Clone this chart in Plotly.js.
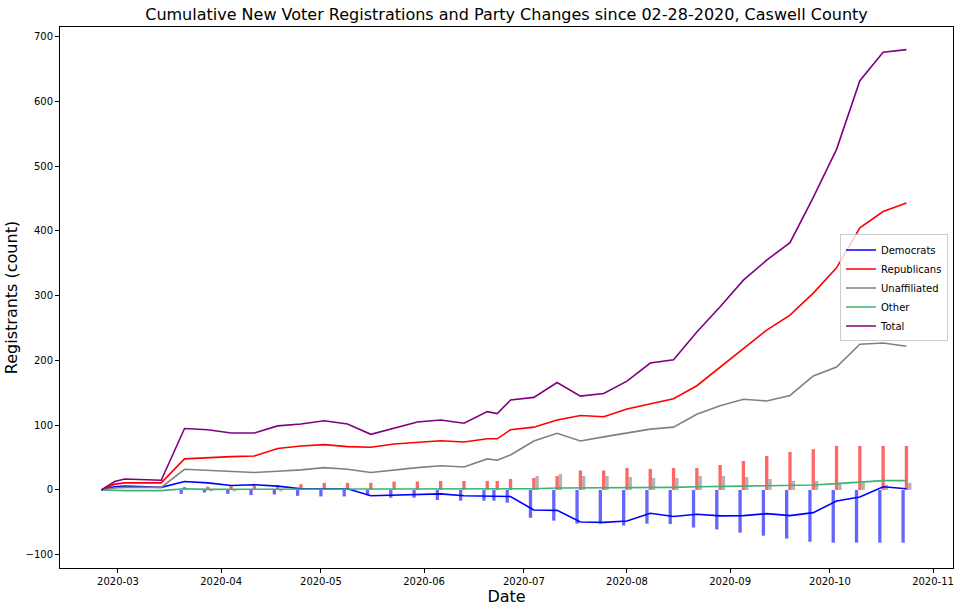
<!DOCTYPE html>
<html>
<head>
<meta charset="utf-8">
<script src="https://cdn.plot.ly/plotly-3.0.1.min.js"></script>
<style>
  html, body { margin: 0; padding: 0; background: #ffffff; }
  #chart { width: 962px; height: 611px; }
</style>
</head>
<body>
<div id="chart"></div>
<script>
// ---- Data ----
const lineDates = ['2020-02-25','2020-02-29','2020-03-03','2020-03-14','2020-03-21','2020-03-28',
  '2020-04-04','2020-04-11','2020-04-18','2020-04-25','2020-05-02','2020-05-09','2020-05-16',
  '2020-05-23','2020-05-30','2020-06-06','2020-06-13','2020-06-20','2020-06-23','2020-06-27',
  '2020-07-04','2020-07-11','2020-07-18','2020-07-25','2020-08-01','2020-08-08','2020-08-15',
  '2020-08-22','2020-08-29','2020-09-05','2020-09-12','2020-09-19','2020-09-26','2020-10-03',
  '2020-10-10','2020-10-17','2020-10-24'];

const democrats = [0, 5, 6, 4, 13, 11, 7, 8, 6, 2, 2, 2, -9, -8, -6, -6, -9, -9, -10, -10,
  -31, -31.5, -49.5, -50, -48, -36, -41, -37.6, -40, -39.6, -36.6, -39.6, -35, -17, -11, 5, 2];
const republicans = [0, 9, 11, 11, 48, 50, 51.5, 52.5, 64, 68, 70, 67, 66, 71, 74, 76, 74, 79, 79, 93,
  97, 108, 115, 113, 125, 133, 141, 161, 190, 218, 247, 270, 304, 343, 405, 430, 443];
const unaffiliated = [0, 3, 4, 4, 32, 30, 28.5, 27, 29, 31, 34.5, 32, 27, 31, 34.5, 37.5, 35.5, 48, 46, 54,
  75.7, 87.5, 75.7, 82, 88.5, 94, 97, 117, 130, 140, 137.5, 146, 176, 190, 225, 227, 222];
const other = [0, -1, -1, -1, 2, 1, 1, 1, 1, 1, 1, 1, 1, 1, 1, 1, 1, 2, 2, 2,
  2, 3, 3, 3, 3, 4, 4, 5, 5, 6, 6.5, 6.7, 7.7, 9.8, 12.4, 14.4, 14.4];
const total = [0, 13, 17, 15, 95, 93, 88, 88, 99, 102, 107, 102, 86, 95, 105, 108, 103, 121, 118, 139,
  143, 166, 145, 149, 168, 196, 201, 244, 283, 324, 355, 382, 452, 526, 632, 676, 680];

const barDates = lineDates.slice(4);
const demChange = [-6, -4, -6, -8, -7, -9, -10, -10, -8, -12, -12, -15.5, -16.5, -16.5, -16.5, -19.6,
  -43, -47.4, -52, -52, -55, -52, -52.5, -58, -61, -66, -70.6, -75, -80, -81.4, -81.4, -81.4, -81.4];
const repChange = [4.6, 5, 6, 7, 7.7, 9, 11, 11, 11, 13, 13, 14, 14, 14, 14, 17,
  18.5, 21.6, 30, 30, 34, 32.5, 34, 34, 38.6, 44.8, 52.5, 58.7, 63, 68, 68, 68, 68];
const unaChange = [0, -2, -2, 0, -2, 0, 0, 0, 0, 0, 0, 0, 0, 0, 0, 0,
  21.6, 24.7, 21.6, 21.6, 20, 18.5, 18.5, 21.6, 21.6, 20, 17, 14, 14, 9, 11, 8, 11];

const yTicks = [-100, 0, 100, 200, 300, 400, 500, 600, 700];

// ---- Styles ----
const DAY = 86400000;
const FONT = 'DejaVu Sans, Liberation Sans, sans-serif';

function barTrace(y, color, offsetDays) {
  return {
    type: 'bar', x: barDates, y: y, width: DAY, offset: offsetDays * DAY,
    marker: { color: color, line: { width: 0 } }, showlegend: false, hoverinfo: 'skip'
  };
}
function lineTrace(y, name, color) {
  return {
    type: 'scatter', mode: 'lines', x: lineDates, y: y, name: name,
    line: { color: color, width: 1.6 }
  };
}

const traces = [
  barTrace(demChange, 'rgba(0,0,255,0.6)', -1.5),
  barTrace(repChange, 'rgba(255,0,0,0.6)', -0.5),
  barTrace(unaChange, 'rgba(128,128,128,0.6)', 0.5),
  lineTrace(democrats, 'Democrats', '#0000ff'),
  lineTrace(republicans, 'Republicans', '#ff0000'),
  lineTrace(unaffiliated, 'Unaffiliated', '#808080'),
  lineTrace(other, 'Other', '#3cb371'),
  lineTrace(total, 'Total', '#800080')
];

const layout = {
  width: 962, height: 611,
  margin: { l: 60, r: 9, t: 27, b: 43, pad: 0 },
  paper_bgcolor: '#ffffff', plot_bgcolor: '#ffffff',
  font: { family: FONT, size: 10, color: '#000000' },
  barmode: 'overlay',
  showlegend: true,
  title: {
    text: 'Cumulative New Voter Registrations and Party Changes since 02-28-2020, Caswell County',
    font: { family: FONT, size: 16, color: '#000000' },
    x: 0.5, xref: 'paper', xanchor: 'center',
    y: 1 - 14 / 611, yref: 'container', yanchor: 'middle'
  },
  xaxis: {
    type: 'date',
    range: ['2020-02-12 13:40', '2020-11-07 00:00'],
    dtick: 'M1', tick0: '2020-03-01', tickformat: '%Y-%m',
    ticks: 'outside', ticklen: 4, tickwidth: 1, tickcolor: '#000000',
    showline: true, linecolor: '#000000', linewidth: 1, mirror: true,
    showgrid: false, zeroline: false,
    tickfont: { family: FONT, size: 10, color: '#000000' },
    title: { text: 'Date', font: { family: FONT, size: 16, color: '#000000' }, standoff: 4 }
  },
  yaxis: {
    range: [-120.5, 715],
    tickvals: yTicks,
    ticks: 'outside', ticklen: 4, tickwidth: 1, tickcolor: '#000000',
    showline: true, linecolor: '#000000', linewidth: 1, mirror: true,
    showgrid: false, zeroline: false,
    tickfont: { family: FONT, size: 10, color: '#000000' },
    title: { text: 'Registrants (count)', font: { family: FONT, size: 16, color: '#000000' }, standoff: 3 }
  },
  legend: {
    x: 0.9944, xanchor: 'right', y: 0.5176, yanchor: 'middle',
    bgcolor: 'rgba(255,255,255,0.8)', bordercolor: '#cccccc', borderwidth: 1,
    font: { family: FONT, size: 10, color: '#000000' },
    itemwidth: 30, tracegroupgap: 0
  }
};

Plotly.newPlot('chart', traces, layout, { staticPlot: true, displayModeBar: false });
</script>
</body>
</html>
